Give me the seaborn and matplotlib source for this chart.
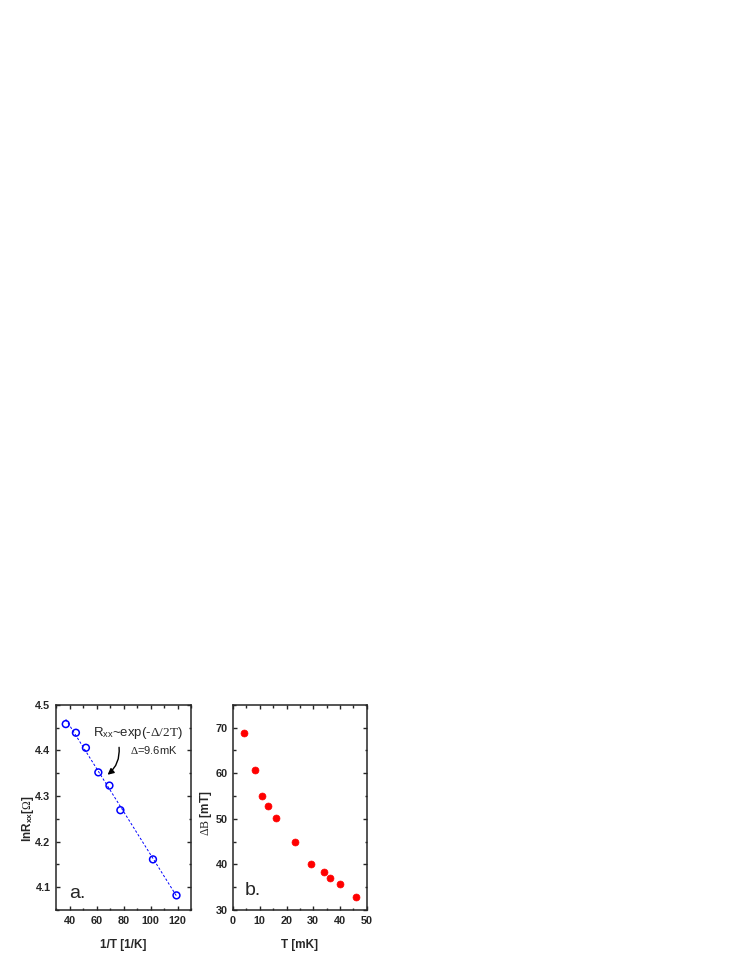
import numpy as np
import pandas as pd
import matplotlib
matplotlib.use("Agg")
import matplotlib.pyplot as plt
import seaborn as sns
from matplotlib.ticker import MultipleLocator

sns.set_style("ticks")
plt.rcParams['font.family'] = ['Liberation Sans', 'DejaVu Sans']
plt.rcParams['mathtext.fontset'] = 'custom'
plt.rcParams['mathtext.rm'] = 'Liberation Serif'
plt.rcParams['mathtext.it'] = 'Liberation Serif:italic'
plt.rcParams['mathtext.sf'] = 'Liberation Sans'
plt.rcParams['mathtext.bf'] = 'Liberation Sans:bold'

# panel a: activation plot
inv_T = [37.2, 44.7, 52.1, 61.3, 69.5, 77.6, 101.7, 119.1]
ln_rxx = [4.458, 4.439, 4.406, 4.352, 4.323, 4.269, 4.161, 4.082]

# panel b: width vs temperature
T_mK = [4.1, 8.1, 10.9, 13.1, 16.0, 23.0, 29.1, 34.1, 36.1, 40.0, 46.0]
dB_mT = [68.8, 60.7, 55.1, 52.8, 50.1, 44.9, 40.1, 38.3, 37.0, 35.8, 32.9]

dfa = pd.DataFrame({'x': inv_T, 'y': ln_rxx})
dfb = pd.DataFrame({'x': T_mK, 'y': dB_mT})

fig = plt.figure(figsize=(7.47, 9.67), dpi=100)
ax1 = fig.add_axes([0.075, 0.059, 0.181, 0.212])
ax2 = fig.add_axes([0.312, 0.059, 0.179, 0.212])

# fit line for panel a
k, b = np.polyfit(inv_T, ln_rxx, 1)
xs = np.array([min(inv_T), max(inv_T)])
sns.lineplot(x=xs, y=k * xs + b, ax=ax1, color='blue', lw=0.7, linestyle=(0, (2.5, 2)))
sns.scatterplot(data=dfa, x='x', y='y', ax=ax1, marker='o', s=24,
                facecolor='none', edgecolor='blue', linewidth=1.1, zorder=3)

sns.scatterplot(data=dfb, x='x', y='y', ax=ax2, marker='o', s=25,
                color='red', edgecolor='red', linewidth=0.5, zorder=3)

ax1.set_xlim(30, 130)
ax1.set_ylim(4.05, 4.5)
ax1.xaxis.set_minor_locator(MultipleLocator(10))
ax1.yaxis.set_major_locator(MultipleLocator(0.1))
ax1.yaxis.set_minor_locator(MultipleLocator(0.05))
ax1.set_xticks([40, 60, 80, 100, 120])

ax2.set_xlim(0, 50)
ax2.set_ylim(30, 75)
ax2.xaxis.set_major_locator(MultipleLocator(10))
ax2.xaxis.set_minor_locator(MultipleLocator(5))
ax2.yaxis.set_major_locator(MultipleLocator(10))
ax2.yaxis.set_minor_locator(MultipleLocator(5))

for ax in (ax1, ax2):
    ax.tick_params(which='both', direction='in', top=True, right=True, width=1.0)
    ax.tick_params(which='major', length=3, labelsize=7.8, pad=4)
    ax.tick_params(which='minor', length=1.8)
    for lab in ax.get_xticklabels() + ax.get_yticklabels():
        lab.set_fontweight('bold')
    for s in ax.spines.values():
        s.set_linewidth(1.1)

ax1.set_xlabel('1/T [1/K]', fontsize=8.5, fontweight='bold')
ax1.set_ylabel(r'lnR$_{\mathbf{xx}}$[$\Omega$]', fontsize=8.5, fontweight='bold')
ax2.set_xlabel('T [mK]', fontsize=8.5, fontweight='bold')
ax2.set_ylabel(r'$\Delta\mathrm{B}$ [mT]', fontsize=8.5, fontweight='bold')
ax1.xaxis.set_label_coords(0.5, -0.141)
ax2.xaxis.set_label_coords(0.5, -0.141)
ax1.yaxis.set_label_coords(-0.148, 0.444)
ax2.yaxis.set_label_coords(-0.142, 0.473)

ax1.text(57, 4.439, r'R$_{\mathsf{xx}}$~exp(-$\Delta/2\mathrm{T}$)', fontsize=9.5, va='center', ha='left')
ax1.text(84.6, 4.400, r'$\Delta$=9.6mK', fontsize=8, va='center', ha='left')
ax1.annotate('', xy=(66.5, 4.343), xytext=(76.4, 4.413),
             arrowprops=dict(arrowstyle='-|>', color='black', lw=1.0,
                             connectionstyle='arc3,rad=-0.3', mutation_scale=9))

ax1.text(39.5, 4.086, 'a.', fontsize=14, va='center', ha='left')
ax2.text(4.4, 34.2, 'b.', fontsize=14, va='center', ha='left')

fig.savefig('out.png', dpi=100)
